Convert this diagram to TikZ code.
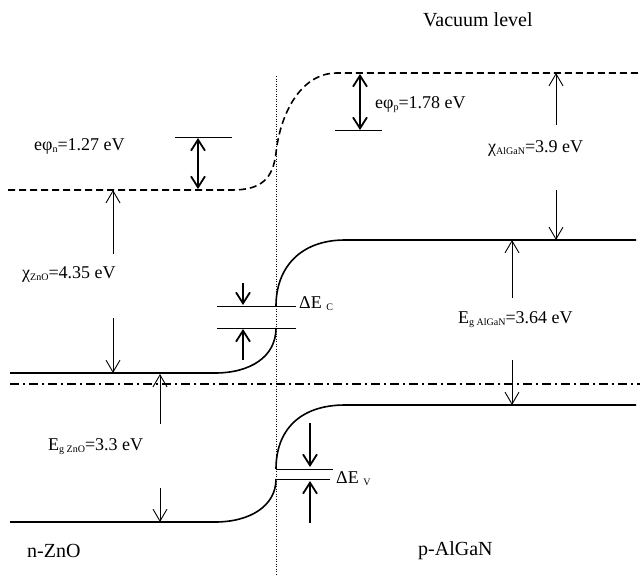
\documentclass[tikz,border=0pt]{standalone}
\usepackage{fontspec}
\setmainfont{Liberation Serif}
\usetikzlibrary{arrows.meta}
\newcommand\lowsub[1]{\raisebox{-0.35ex}{\fontsize{10}{10}\selectfont #1}}
\begin{document}
\begin{tikzpicture}[x=1pt,y=-1pt,
  band/.style={line width=1.6pt},
  vac/.style={line width=1.6pt, dash pattern=on 7pt off 4pt},
  fermi/.style={line width=1.2pt, dash pattern=on 9pt off 4pt on 2pt off 4pt},
  junction/.style={line width=1pt, dash pattern=on 1pt off 1.5pt},
  thinline/.style={line width=0.8pt},
  thinarrow/.style={line width=0.9pt, -{Straight Barb[length=12pt,width=14pt,line width=0.9pt]}},
  boldarrow/.style={line width=1.8pt, -{Straight Barb[length=11pt,width=14pt,line width=1.8pt]}},
  dblarrow/.style={line width=1.8pt, {Straight Barb[length=11pt,width=14pt,line width=1.8pt]}-{Straight Barb[length=11pt,width=14pt,line width=1.8pt]}},
  lbl/.style={font=\fontsize{18}{21}\selectfont, anchor=base west, inner sep=0pt},
  big/.style={font=\fontsize{20}{24}\selectfont, anchor=base west, inner sep=0pt}]

\fill[white] (0,0) rectangle (640,576);
\useasboundingbox (0,0) rectangle (640,576);

% junction
\draw[junction] (276,76) -- (276,576);

% vacuum level
\draw[vac] (8,190) -- (232,190) .. controls (262,190) and (273,178) .. (276,153)
  .. controls (280,115) and (300,73) .. (337,73) -- (638,73);

% conduction band
\draw[band] (10,373) -- (215,373) .. controls (250,373) and (276,357) .. (276,328);
\draw[band] (276,306) .. controls (276,268) and (300,240) .. (345,240) -- (636,240);

% Fermi level
\draw[fermi] (10,384) -- (640,384);

% valence band
\draw[band] (10,522) -- (215,522) .. controls (250,522) and (276,506) .. (276,479);
\draw[band] (276,469) .. controls (276,430) and (300,405) .. (345,405) -- (636,405);

% reference ticks
\draw[thinline] (175,137) -- (232,137);
\draw[thinline] (335,130) -- (382,130);
\draw[thinline] (217,306) -- (296,306);
\draw[thinline] (217,328) -- (296,328);
\draw[thinline] (276,469) -- (333,469);
\draw[thinline] (276,479) -- (330,479);

% coordinates
\coordinate (phin1) at (198,138);
\coordinate (phin2) at (198,189);
\coordinate (phip1) at (360,74);
\coordinate (phip2) at (360,130);
\coordinate (chiz1) at (113,254);
\coordinate (chiz2) at (113,190);
\coordinate (chiz3) at (113,318);
\coordinate (chiz4) at (113,373);
\coordinate (chia1) at (556,125);
\coordinate (chia2) at (556,73);
\coordinate (chia3) at (556,190);
\coordinate (chia4) at (556,240);
\coordinate (egz1) at (160,424);
\coordinate (egz2) at (160,374);
\coordinate (egz3) at (160,488);
\coordinate (egz4) at (160,522);
\coordinate (ega1) at (512,298);
\coordinate (ega2) at (512,240);
\coordinate (ega3) at (512,360);
\coordinate (ega4) at (512,405);
\coordinate (dec1) at (243,283);
\coordinate (dec2) at (243,305);
\coordinate (dec3) at (243,360);
\coordinate (dec4) at (243,329);
\coordinate (dev1) at (310,423);
\coordinate (dev2) at (310,467);
\coordinate (dev3) at (310,523);
\coordinate (dev4) at (310,481);

% arrows
\draw[dblarrow] (phin1) -- (phin2);
\draw[dblarrow] (phip1) -- (phip2);
\draw[thinarrow] (chiz1) -- (chiz2);
\draw[thinarrow] (chiz3) -- (chiz4);
\draw[thinarrow] (chia1) -- (chia2);
\draw[thinarrow] (chia3) -- (chia4);
\draw[thinarrow] (egz1) -- (egz2);
\draw[thinarrow] (egz3) -- (egz4);
\draw[thinarrow] (ega1) -- (ega2);
\draw[thinarrow] (ega3) -- (ega4);
\draw[boldarrow] (dec1) -- (dec2);
\draw[boldarrow] (dec3) -- (dec4);
\draw[boldarrow] (dev1) -- (dev2);
\draw[boldarrow] (dev3) -- (dev4);

% labels
\node[big] (vac) at (423,26) {Vacuum level};
\node[lbl] (phin) at (34,150) {eφ\lowsub{n}=1.27 eV};
\node[lbl] (phip) at (375,108) {eφ\lowsub{p}=1.78 eV};
\node[lbl] (chiz) at (22,278) {χ\lowsub{ZnO}=4.35 eV};
\node[lbl] (chia) at (488,152) {χ\lowsub{AlGaN}=3.9 eV};
\node[lbl] (egz) at (48,450) {E\lowsub{g ZnO}=3.3 eV};
\node[lbl] (ega) at (458,323) {E\lowsub{g AlGaN}=3.64 eV};
\node[lbl] (dec) at (299,308) {ΔE \lowsub{C}};
\node[lbl] (dev) at (336,483) {ΔE \lowsub{V}};
\node[big] (nzno) at (27,557) {n-ZnO};
\node[big] (palgan) at (418,555) {p-AlGaN};
\end{tikzpicture}
\end{document}
